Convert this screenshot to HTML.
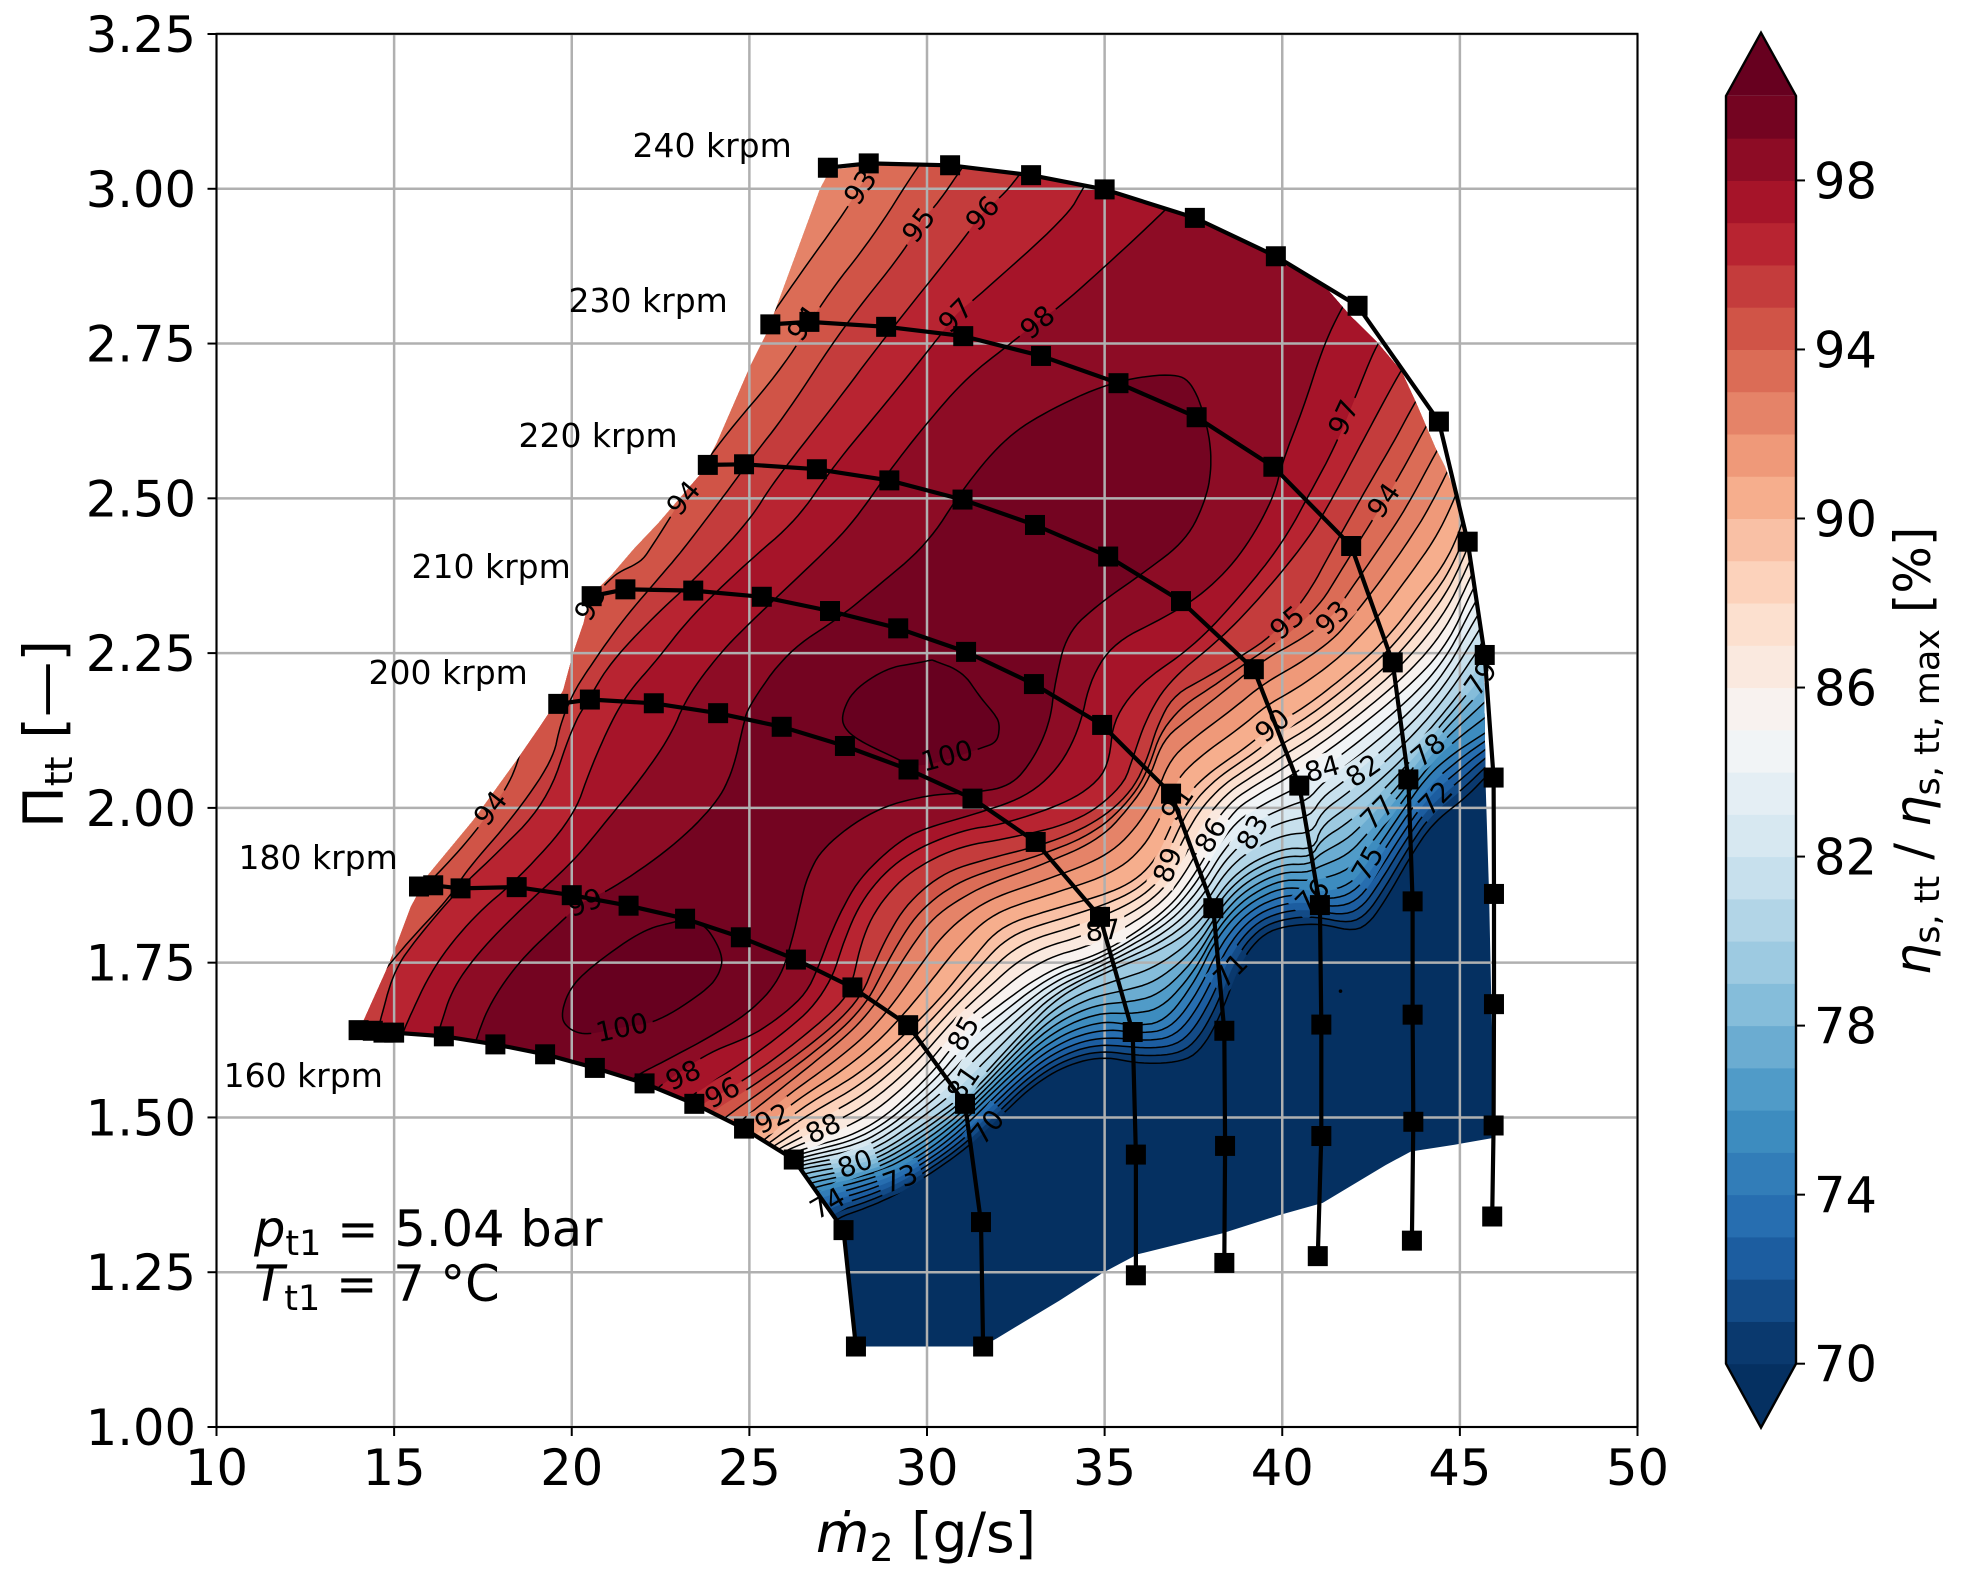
<!DOCTYPE html>
<html lang="en">
<head>
<meta charset="utf-8">
<title>Compressor map</title>
<style>
html,body{margin:0;padding:0;background:#fff;overflow:hidden;}
svg{display:block;font-family:"DejaVu Sans","Liberation Sans",sans-serif;}
</style>
</head>
<body>
<svg id="chart" xmlns="http://www.w3.org/2000/svg" width="1967" height="1579" viewBox="0 0 1967 1579">
  <rect width="1967" height="1579" fill="#fff"/>
  <defs>
    <clipPath id="regionClip"><path id="regionClipPath"/></clipPath>
    <mask id="labelMask" maskUnits="userSpaceOnUse" x="0" y="0" width="1967" height="1579"><rect width="1967" height="1579" fill="#fff"/><g id="labelMaskRects"></g></mask>
    <clipPath id="axesClip"><rect x="216.5" y="33.8" width="1421" height="1393.2"/></clipPath>
  </defs>
  <g id="fills" clip-path="url(#regionClip)"></g>
  <g id="grid"></g>
  <g id="linesWrap" mask="url(#labelMask)"><g id="lines" clip-path="url(#regionClip)"></g></g>
  <g id="contourLabels"></g>
  <g id="speeds" clip-path="url(#axesClip)"></g>
  <g id="speedLabels"></g>
  <rect x="216.5" y="33.8" width="1421" height="1393.2" fill="none" stroke="#000" stroke-width="2"/>
  <g id="axisTicks"></g>
  <text x="926" y="1552" font-size="55" text-anchor="middle"><tspan font-style="italic">ṁ</tspan><tspan font-size="38" dy="9">2</tspan><tspan dy="-9"> [g/s]</tspan></text>
  <text transform="translate(63,734) rotate(-90)" font-size="55.5" text-anchor="middle">Π<tspan font-size="38" dy="9">tt</tspan><tspan dy="-9"> [—]</tspan></text>
  <text x="254" y="1246" font-size="49.5"><tspan font-style="italic">p</tspan><tspan font-size="35" dy="9">t1</tspan><tspan dy="-9"> = 5.04 bar</tspan></text>
  <text x="254" y="1301" font-size="49.5"><tspan font-style="italic">T</tspan><tspan font-size="35" dy="9">t1</tspan><tspan dy="-9"> = 7 °C</tspan></text>
  <g id="colorbar"></g>
  <text transform="translate(1930,751) rotate(-90)" font-size="50" text-anchor="middle"><tspan font-style="italic">η</tspan><tspan font-size="35" dy="9">s, tt</tspan><tspan dy="-9"> / </tspan><tspan font-style="italic">η</tspan><tspan font-size="35" dy="9">s, tt, max</tspan><tspan dy="-9"> [%]</tspan></text>
</svg>
<script>
// ---------- axis values ----------
const xTicks=[10,15,20,25,30,35,40,45,50];
const yTicks=[1,1.25,1.5,1.75,2,2.25,2.5,2.75,3,3.25];
const colorbarTicks=[70,74,78,82,86,90,94,98];
const bandLevels=[70,71,72,73,74,75,76,77,78,79,80,81,82,83,84,85,86,87,88,89,90,91,92,93,94,95,96,97,98,99,100];
const cmapStops=["#053061","#2166ac","#4393c3","#92c5de","#d1e5f0","#f7f7f7","#fddbc7","#f4a582","#d6604d","#b2182b","#67001f"];

// ---------- speed lines (mass flow g/s, pressure ratio) ----------
const speedNames=["160 krpm","180 krpm","200 krpm","210 krpm","220 krpm","230 krpm","240 krpm"];
const speedNameX=[10.2,10.62,14.28,15.49,18.5,19.91,21.71];
const speedNameY=[1.549,1.901,2.2,2.371,2.583,2.801,3.051];
const s160x=[14,14.4,14.7,15,16.4,17.85,19.25,20.65,22.05,23.45,24.85,26.25,27.65,28];
const s160y=[1.641,1.64,1.637,1.637,1.631,1.618,1.602,1.58,1.555,1.522,1.482,1.432,1.318,1.13];
const s180x=[15.7,16.1,16.87,18.45,20,21.6,23.19,24.76,26.31,27.9,29.47,31.07,31.52,31.58];
const s180y=[1.873,1.875,1.87,1.872,1.859,1.842,1.821,1.791,1.755,1.71,1.649,1.522,1.331,1.13];
const s200x=[19.62,20.51,22.31,24.12,25.91,27.69,29.48,31.28,33.06,34.87,35.79,35.88,35.88];
const s200y=[2.168,2.175,2.169,2.153,2.131,2.1,2.062,2.015,1.945,1.824,1.638,1.44,1.245];
const s210x=[20.56,21.51,23.42,25.35,27.27,29.19,31.1,33.01,34.93,36.87,38.06,38.37,38.39,38.37];
const s210y=[2.342,2.353,2.351,2.341,2.318,2.29,2.252,2.2,2.134,2.023,1.838,1.64,1.454,1.265];
const s220x=[23.83,24.85,26.9,28.94,31,33.04,35.1,37.15,39.2,40.48,41.06,41.1,41.1,41];
const s220y=[2.554,2.555,2.547,2.529,2.498,2.457,2.406,2.334,2.224,2.036,1.843,1.65,1.47,1.276];
const s230x=[25.59,26.69,28.85,31.02,33.21,35.39,37.59,39.75,41.94,43.11,43.55,43.67,43.67,43.69,43.65];
const s230y=[2.781,2.785,2.777,2.762,2.73,2.686,2.631,2.551,2.423,2.235,2.046,1.849,1.666,1.493,1.301];
const s240x=[27.21,28.36,30.65,32.93,35,37.54,39.82,42.12,44.41,45.22,45.7,45.95,45.96,45.96,45.95,45.91];
const s240y=[3.034,3.041,3.038,3.022,2.999,2.953,2.891,2.811,2.624,2.43,2.247,2.049,1.861,1.683,1.487,1.34];

// ---------- measured region outline (x,y pairs) ----------
const regionOutline=[14.13,1.655,14.74,1.733,15.07,1.779,15.47,1.84,15.96,1.892,17.23,1.98,18.45,2.077,19.1,2.131,19.6,2.174,19.76,2.19,20.04,2.25,20.33,2.298,20.51,2.341,21.12,2.376,21.73,2.417,22.44,2.46,23.61,2.538,24.08,2.589,25.02,2.713,25.49,2.767,25.77,2.81,26.99,3,27.27,3.03,28.36,3.038,30.65,3.036,32.93,3.02,35,2.997,37.54,2.95,39.82,2.888,41.25,2.839,41.9,2.796,42.66,2.753,43.36,2.705,43.78,2.653,44.3,2.583,44.58,2.551,44.91,2.503,45.19,2.444,45.66,2.272,45.73,2.029,45.82,1.866,45.88,1.704,45.95,1.541,45.95,1.467,44.85,1.456,43.62,1.445,42.91,1.423,41.14,1.362,39.9,1.342,38.32,1.313,35.93,1.279,34.95,1.249,33.72,1.204,31.96,1.143,31.55,1.13,28,1.13,27.65,1.318,27.46,1.337,26.42,1.42,26.25,1.432,24.85,1.482,23.45,1.522,22.05,1.555,20.65,1.58,19.25,1.602,17.85,1.618,16.4,1.631,15,1.637,14,1.645];

// ---------- efficiency field samples along lines of constant value (x,y pairs) ----------
const sampledLevels=[70,75,80,85,90,93,95,96,97,98];
const lower70=[27.13,1.315,27.47,1.338,28.31,1.354,29.24,1.378,30.17,1.412,31.13,1.451,32.05,1.501,32.98,1.552,33.94,1.585,34.98,1.599,36.02,1.586,37.26,1.59,37.8,1.615,38.3,1.67,38.81,1.75,39.37,1.792,39.94,1.808,41.06,1.814,41.99,1.8,42.47,1.814,43.03,1.863,43.6,1.921,44.24,1.976,45.2,2.018,45.85,2.058,46.27,2.077];
const lower75=[26.57,1.37,26.9,1.38,28.11,1.396,29.24,1.418,30.65,1.472,32.05,1.552,33.46,1.625,34.87,1.657,35.85,1.648,36.7,1.654,37.54,1.719,38.11,1.787,38.95,1.843,40.08,1.875,41.06,1.863,41.91,1.875,42.39,1.911,43.31,1.989,44.1,2.053,44.86,2.09,45.85,2.126];
const lower80=[26.28,1.412,26.51,1.418,27.97,1.431,28.68,1.443,30.17,1.499,31.21,1.544,32.62,1.633,33.74,1.698,35.29,1.741,36.56,1.769,37.68,1.812,38.61,1.895,40.02,1.937,40.92,1.932,41.06,1.969,41.82,2,43.03,2.058,44.16,2.126,45.29,2.207,45.79,2.255];
const lower85=[26,1.436,26.37,1.447,28.31,1.477,30,1.561,31.01,1.636,31.58,1.662,33.46,1.741,34.87,1.762,36.56,1.825,37.4,1.878,38.53,1.992,39.37,2.024,40.3,2.053,41.91,2.118,43.79,2.207,44.72,2.271,45.34,2.352,45.85,2.4];
const lower90=[25.21,1.456,25.5,1.467,26.42,1.515,28.31,1.577,30.17,1.678,31.21,1.751,32.05,1.809,33.46,1.835,35.43,1.867,36.28,1.903,36.7,1.948,37.12,2.005,37.77,2.05,39.09,2.102,39.71,2.134,40.44,2.155,41.54,2.202,42.84,2.266,43.79,2.336,44.72,2.405,45.29,2.497];
const lower93=[24.45,1.48,24.74,1.493,25.02,1.507,27.27,1.609,28.2,1.657,28.87,1.711,29.44,1.766,30.17,1.824,31.21,1.863,32.05,1.884,33.1,1.905,34.87,1.948,35.8,2.008,36.28,2.05,36.64,2.11,37.32,2.142,38.16,2.179,39.46,2.239,40.5,2.271,41.4,2.308,41.82,2.344,42.61,2.409,43.46,2.481,44.36,2.578,44.86,2.627];
const lower95=[23.81,1.502,24.09,1.515,25.02,1.548,26.42,1.604,27.55,1.657,28.2,1.701,28.48,1.743,28.87,1.792,29.44,1.846,30.45,1.895,31.58,1.916,33.46,1.943,34.87,1.98,35.8,2.029,36.22,2.082,36.47,2.131,36.93,2.182,37.88,2.211,38.9,2.247,39.66,2.276,40.64,2.336,41.48,2.425,42.47,2.526,43.17,2.594,43.74,2.656,44.22,2.699];
const lower96=[23.47,1.512,23.69,1.523,24.74,1.556,26.06,1.609,27.64,1.685,27.92,1.722,28.11,1.775,28.48,1.83,29.24,1.884,30.17,1.919,31.13,1.94,32.05,1.948,34.22,1.976,35.52,2.034,35.8,2.082,36.19,2.147,36.84,2.207,38.33,2.276,39.57,2.352,40.78,2.438,41.43,2.502,42.39,2.606,43.31,2.704,43.74,2.74];
const lower97=[23.19,1.525,23.38,1.536,25.02,1.596,26.06,1.641,26.79,1.678,27.35,1.727,27.64,1.782,28.11,1.846,28.87,1.9,29.8,1.937,31.13,1.966,32.05,1.972,33.94,2.008,34.87,2.045,35.15,2.082,35.24,2.142,36,2.202,37.49,2.26,38.81,2.341,40.02,2.428,40.87,2.518,41.48,2.583,42.1,2.67,42.67,2.751,43.17,2.788];
const lower98=[22.34,1.541,22.57,1.556,23.89,1.606,25.02,1.63,25.86,1.662,26.62,1.701,26.99,1.75,27.19,1.782,27.55,1.83,28.11,1.888,29.24,1.948,30,1.968,31.3,1.989,32.81,2.018,33.74,2.066,34.31,2.131,34.59,2.207,35.24,2.266,36.56,2.304,37.68,2.341,38.81,2.405,39.74,2.497,40.02,2.562,40.58,2.643,41.15,2.745,41.68,2.809,42.19,2.853];
const sampledLower=[lower70,lower75,lower80,lower85,lower90,lower93,lower95,lower96,lower97,lower98];
const upper93=[28.82,3.063,28.11,3.003,27.69,2.963,26.71,2.885,25.78,2.809,25.44,2.78];
const upper94=[30.23,3.071,29.72,3.035,28.48,2.922,27.07,2.82,26.06,2.719,24.12,2.589,23.13,2.502,22.2,2.417,21.92,2.396,21.13,2.376,20.37,2.32,18.82,2.174,18.6,2.094,18.21,2.034,17.22,1.956,16.21,1.892,15.67,1.864];
const upper95=[31.35,3.063,30.99,3.034,30.31,2.977,29.75,2.942,29.38,2.901,27.64,2.777,26.06,2.638,25.02,2.562,24.26,2.502,23.13,2.417,22.57,2.379,21.44,2.304,20.51,2.228,20.04,2.186,19.67,2.134,19.47,2.077,18.35,1.985,17.05,1.9,16.57,1.856,15.45,1.787,14.69,1.735,14.38,1.714];
const upper96=[32.9,3.047,32.56,3.019,32.14,2.99,31.55,2.961,31.01,2.917,28.76,2.756,27.35,2.648,25.66,2.525,25.02,2.465,23.53,2.373,22.29,2.308,21.08,2.234,20.51,2.179,20.01,2.131,19.3,2.008,17.7,1.916,16.85,1.871,15.53,1.782,14.97,1.733,14.6,1.654,14.46,1.625];
const upper97=[34.73,3.03,34.39,3.001,33.94,2.955,31.41,2.825,30.79,2.796,30.28,2.756,28.76,2.648,27.35,2.551,26.34,2.465,24.93,2.396,23.33,2.308,22.4,2.239,21.64,2.19,21.13,2.142,20.51,2.061,20.04,1.984,18.54,1.888,17.22,1.824,16.09,1.743,15.36,1.653,15.17,1.625];
const upper98=[37.12,2.99,36.73,2.967,35.52,2.901,33.74,2.809,33.1,2.785,32.42,2.753,31.13,2.696,30,2.622,28.96,2.546,27.97,2.465,27.19,2.417,25.1,2.304,24.17,2.25,23.24,2.179,22.77,2.115,21.92,2.045,20.99,1.98,20.04,1.913,18.74,1.846,17.5,1.775,16.66,1.711,16.29,1.646,16.15,1.617];
const upperLevels=[93,94,95,96,97,98];
const upperCurves=[upper93,upper94,upper95,upper96,upper97,upper98];
const ridge99=[17.19,1.601,17.33,1.63,17.7,1.685,18.54,1.754,19.75,1.819,20.37,1.851,21.08,1.867,22.85,1.937,24.09,2.008,24.54,2.061,24.82,2.131,24.96,2.163,26.06,2.252,27.55,2.308,28.48,2.352,30,2.425,30.99,2.514,32.14,2.594,33.27,2.638,35.15,2.688,36.93,2.703,37.49,2.686,37.91,2.615,38.02,2.557,37.88,2.502,37.32,2.433,36.08,2.379,34.87,2.331,33.94,2.283,33.6,2.202,33.46,2.137,32.98,2.077,32.34,2.034,31.21,2.024,30,2.021,28.48,1.997,27.07,1.937,26.62,1.888,26.42,1.84,26.23,1.792,25.86,1.722,25.02,1.67,23.89,1.63,22.68,1.593,21.72,1.565,21.5,1.544];
const peak100a=[30.14,2.239,31.01,2.22,31.49,2.179,31.97,2.147,32.05,2.131,31.97,2.106,31.55,2.097,30.56,2.077,29.66,2.066,29.24,2.077,28.03,2.11,27.64,2.131,27.61,2.153,27.92,2.19,28.87,2.226,29.72,2.234,30.14,2.239];
const peak100b=[22.91,1.816,22.01,1.803,20.71,1.751,19.95,1.711,19.67,1.662,19.95,1.641,20.43,1.633,21.41,1.646,22.4,1.653,23.81,1.706,24.17,1.733,24.26,1.762,23.81,1.808,23.41,1.816,22.91,1.816];
const isolatedDotX=[41.64];
const isolatedDotY=[1.704];

// ---------- printed contour labels ----------
const contourText=["93","95","96","97","98","94","94","94","93","99","100","100","98","96","92","88","80","73","74","70","81","85","87","89","91","86","83","84","82","90","95","93","94","97","78","77","72","75","71","79","76"];
const contourTextX=[28.11,29.75,31.55,30.79,33.1,26.51,23.13,17.7,20.51,20.37,21.41,30.56,23.13,24.23,25.64,27.07,27.97,29.24,27.19,31.69,31.01,31.01,34.95,36.76,37.03,37.97,39.15,41.12,42.27,39.71,40.13,41.4,42.84,41.71,44.1,42.67,44.3,42.39,38.53,45.57,40.84];
const contourTextY=[3.003,2.942,2.961,2.796,2.785,2.783,2.501,2,2.331,1.848,1.646,2.085,1.569,1.541,1.499,1.483,1.426,1.402,1.362,1.485,1.556,1.636,1.803,1.908,2.008,1.956,1.961,2.064,2.061,2.134,2.3,2.308,2.497,2.631,2.094,1.993,2.016,1.911,1.738,2.21,1.859];
const contourTextTilt=[-55,-53,-48,-45,-40,-55,-50,-52,-60,-20,-12,-15,-25,-28,-25,-25,-20,-20,-30,-50,-55,-60,-5,-70,-55,-60,-60,-15,-35,-40,-40,-45,-55,-65,-40,-45,-45,-60,-45,-55,-45];

// ---------- scales ----------
const NS='http://www.w3.org/2000/svg';
const sx=v=>216.5+(v-10)*35.525;
const sy=v=>1427-(v-1)*619.11;
const cy=v=>1363.7-(v-70)*42.26;
const hexRgb=h=>[1,3,5].map(i=>parseInt(h.substr(i,2),16));
function cmap(t){
  t=Math.max(0,Math.min(1,t));
  const p=t*10,i=Math.min(9,Math.floor(p)),f=p-i,a=hexRgb(cmapStops[i]),b=hexRgb(cmapStops[i+1]);
  return 'rgb('+a.map((c,k)=>Math.round(c+(b[k]-c)*f)).join(',')+')';
}
const bandColor=l=>cmap((l+0.5-70)/30);
function make(tag,attrs,parent,text){
  const el=document.createElementNS(NS,tag);
  for(const k in attrs)el.setAttribute(k,attrs[k]);
  if(text!==undefined)el.textContent=text;
  parent.appendChild(el);
  return el;
}
function toPixels(flat){const o=[];for(let i=0;i<flat.length;i+=2)o.push([sx(flat[i]),sy(flat[i+1])]);return o;}
function chaikin(p,n){
  for(let r=0;r<n;r++){
    const o=[p[0]];
    for(let i=0;i<p.length-1;i++){
      o.push([p[i][0]*.75+p[i+1][0]*.25,p[i][1]*.75+p[i+1][1]*.25]);
      o.push([p[i][0]*.25+p[i+1][0]*.75,p[i][1]*.25+p[i+1][1]*.75]);
    }
    o.push(p[p.length-1]);p=o;
  }
  return p;
}
function resample(p,n){
  const d=[0];
  for(let i=1;i<p.length;i++)d.push(d[i-1]+Math.hypot(p[i][0]-p[i-1][0],p[i][1]-p[i-1][1]));
  const o=[];let j=0;const T=d[d.length-1];
  for(let k=0;k<n;k++){
    const s=T*k/(n-1);
    while(j<p.length-2&&d[j+1]<s)j++;
    const f=(s-d[j])/Math.max(1e-6,d[j+1]-d[j]);
    o.push([p[j][0]+(p[j+1][0]-p[j][0])*f,p[j][1]+(p[j+1][1]-p[j][1])*f]);
  }
  return o;
}
const ptsStr=p=>p.map(q=>q[0].toFixed(1)+' '+q[1].toFixed(1)).join(' L');

// region clip
document.getElementById('regionClipPath').setAttribute('d','M'+ptsStr(toPixels(regionOutline))+'Z');

// contour the field: position of each level between neighbouring sampled lines
const sampled=sampledLower.map(a=>resample(chaikin(toPixels(a),3),160));
function lowerCurve(level){
  let i=0;
  while(i<sampledLevels.length-2&&sampledLevels[i+1]<level)i++;
  const a=sampled[i],b=sampled[i+1],f=(level-sampledLevels[i])/(sampledLevels[i+1]-sampledLevels[i]);
  return a.map((q,k)=>[q[0]+(b[k][0]-q[0])*f,q[1]+(b[k][1]-q[1])*f]);
}
const fillsGroup=document.getElementById('fills'),linesGroup=document.getElementById('lines');
const baseBand=make('rect',{x:0,y:0,width:1967,height:1579,fill:cmap(0)},fillsGroup);


function addBand(d,level){
  const el=make('path',{d:d,fill:bandColor(level),stroke:bandColor(level),'stroke-width':0.6},fillsGroup);
  
  
}
function addLine(p,level){
  const el=make('path',{d:'M'+ptsStr(p),fill:'none',stroke:'#000','stroke-width':1.5},linesGroup);
  
  
}
for(let level=70;level<=98;level++){
  const low=lowerCurve(level);
  const ui=upperLevels.indexOf(level);
  const s=low[0],e=low[low.length-1];
  let d='M'+ptsStr(low);
  if(ui>=0){
    const up=chaikin(toPixels(upperCurves[ui]),3);
    d+=' L'+e[0].toFixed(1)+' 1 L'+up[0][0].toFixed(1)+' 1 L'+ptsStr(up);
    d+=' L1 '+up[up.length-1][1].toFixed(1)+' L1 1577 L'+s[0].toFixed(1)+' 1577Z';
    addBand(d,level);
    addLine(low,level);
    addLine(up,level);
  }else{
    d+=' L'+e[0].toFixed(1)+' 1 L1 1 L1 1577 L'+s[0].toFixed(1)+' 1577Z';
    addBand(d,level);
    addLine(low,level);
  }
}
const r99=chaikin(toPixels(ridge99),3);
addBand('M'+ptsStr(r99)+'Z',99);
addLine(r99,99);
[peak100a,peak100b].forEach(a=>{
  const p=chaikin(toPixels(a),3);
  const el=make('path',{d:'M'+ptsStr(p)+'Z',fill:cmap(1),stroke:'none'},fillsGroup);
  
  
  addLine(p,100);
});
isolatedDotX.forEach((v,i)=>{
  const el=make('circle',{cx:sx(v),cy:sy(isolatedDotY[i]),r:1.8,fill:'#000'},document.getElementById('speeds'));
  
  
});

// grid
const gridGroup=document.getElementById('grid');
xTicks.forEach(v=>{
  const el=make('line',{x1:sx(v),x2:sx(v),y1:33.8,y2:1427,stroke:'#b0b0b0','stroke-width':2.5},gridGroup);
  
  
});
yTicks.forEach(v=>{
  const el=make('line',{x1:216.5,x2:1637.5,y1:sy(v),y2:sy(v),stroke:'#b0b0b0','stroke-width':2.5},gridGroup);
  
  
});

// contour labels and line gaps
const labelGroup=document.getElementById('contourLabels'),maskRects=document.getElementById('labelMaskRects');
contourText.forEach((t,i)=>{
  const x=sx(contourTextX[i]),y=sy(contourTextY[i]),a=contourTextTilt[i];
  const el=make('text',{x:x,y:y+10,'font-size':27.5,'text-anchor':'middle',transform:'rotate('+a+' '+x+' '+y+')'},labelGroup,t);
  
  
  const w=t.length*17.5+10;
  make('rect',{x:x-w/2,y:y-14,width:w,height:28,fill:'#000',transform:'rotate('+a+' '+x+' '+y+')'},maskRects);
});

// speed lines and markers
const speedsGroup=document.getElementById('speeds');
[[s160x,s160y],[s180x,s180y],[s200x,s200y],[s210x,s210y],[s220x,s220y],[s230x,s230y],[s240x,s240y]].forEach((c,i)=>{
  const el=make('polyline',{points:c[0].map((v,k)=>sx(v).toFixed(1)+','+sy(c[1][k]).toFixed(1)).join(' '),fill:'none',stroke:'#000','stroke-width':4.2,'stroke-linejoin':'round'},speedsGroup);
  
  
  c[0].forEach((v,k)=>{
    const m=make('rect',{x:sx(v)-10,y:sy(c[1][k])-10,width:20,height:20,fill:'#000'},speedsGroup);
    
    
  });
});
const speedLabelsGroup=document.getElementById('speedLabels');
speedNames.forEach((t,i)=>{
  const el=make('text',{x:sx(speedNameX[i]),y:sy(speedNameY[i]),'font-size':33},speedLabelsGroup,t);
  
  
});

// ticks
const tickGroup=document.getElementById('axisTicks');
xTicks.forEach(v=>{
  const t=make('line',{x1:sx(v),x2:sx(v),y1:1427,y2:1436,stroke:'#000','stroke-width':2},tickGroup);
  
  
  const l=make('text',{x:sx(v),y:1485,'font-size':49.5,'text-anchor':'middle'},tickGroup,String(v));
  
  
});
yTicks.forEach(v=>{
  const t=make('line',{x1:207.5,x2:216.5,y1:sy(v),y2:sy(v),stroke:'#000','stroke-width':2},tickGroup);
  
  
  const l=make('text',{x:196,y:sy(v)+18,'font-size':49.5,'text-anchor':'end'},tickGroup,v.toFixed(2));
  
  
});

// colorbar
const colorbarGroup=document.getElementById('colorbar');
const overArrow=make('polygon',{points:'1726,'+cy(100)+' 1761,32.7 1796,'+cy(100),fill:cmap(1)},colorbarGroup);


const underArrow=make('polygon',{points:'1726,'+cy(70)+' 1761,1427.6 1796,'+cy(70),fill:cmap(0)},colorbarGroup);


bandLevels.slice(0,-1).forEach(l=>{
  const el=make('rect',{x:1726,y:cy(l+1),width:70,height:cy(l)-cy(l+1)+0.5,fill:bandColor(l)},colorbarGroup);
  
  
});
const colorbarOutline=make('polygon',{points:'1726,'+cy(100)+' 1761,32.7 1796,'+cy(100)+' 1796,'+cy(70)+' 1761,1427.6 1726,'+cy(70),fill:'none',stroke:'#000','stroke-width':2.4},colorbarGroup);


colorbarTicks.forEach(v=>{
  const t=make('line',{x1:1796,x2:1805,y1:cy(v),y2:cy(v),stroke:'#000','stroke-width':2},colorbarGroup);
  
  
  const l=make('text',{x:1814,y:cy(v)+18,'font-size':49.5},colorbarGroup,String(v));
  
  
});
</script>
</body>
</html>
